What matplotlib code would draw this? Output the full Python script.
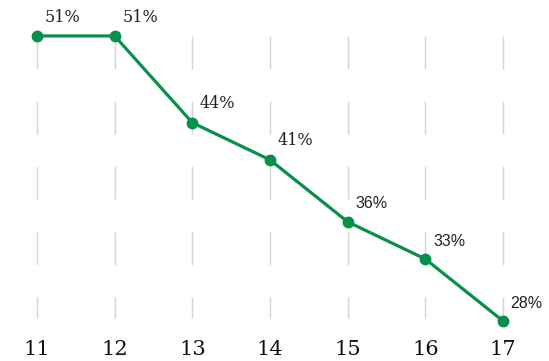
import matplotlib

matplotlib.use("Agg")
import matplotlib.pyplot as plt

ages = [11, 12, 13, 14, 15, 16, 17]
shares = [51, 51, 44, 41, 36, 33, 28]
labels = ["51%", "51%", "44%", "41%", "36%", "33%", "28%"]
# the first four callouts are set in a serif face, the rest in a sans
label_fonts = ["DejaVu Serif"] * 4 + ["Liberation Sans"] * 3

GREEN = "#08904a"
GRID = "#d4d4d4"

fig = plt.figure(figsize=(5.49, 3.61), dpi=100)
ax = fig.add_axes([0, 0, 1, 1])
ax.set_xlim(10.524, 17.592)
ax.set_ylim(24.77, 53.9)
ax.axis("off")

# broken vertical guides under each point
for x in ages:
    ax.plot([x, x], [51, 28.25], color=GRID, lw=1.0,
            linestyle=(0, (23.5, 23.5)), zorder=1, solid_capstyle="butt")

ax.plot(ages, shares, color=GREEN, lw=2.3, marker="o", markersize=7.5,
        zorder=3)

for x, y, text, fam in zip(ages, shares, labels, label_fonts):
    ax.annotate(text, (x, y), xytext=(5.5, 7.5), textcoords="offset points",
                fontsize=11.5, family=fam, color="#222222",
                ha="left", va="bottom")

for x in ages:
    ax.annotate(str(x), (x, 24.77), xytext=(0, 1.5), textcoords="offset points",
                fontsize=15, family="DejaVu Serif", color="#111111",
                ha="center", va="bottom")

fig.savefig("out.png", dpi=100)
